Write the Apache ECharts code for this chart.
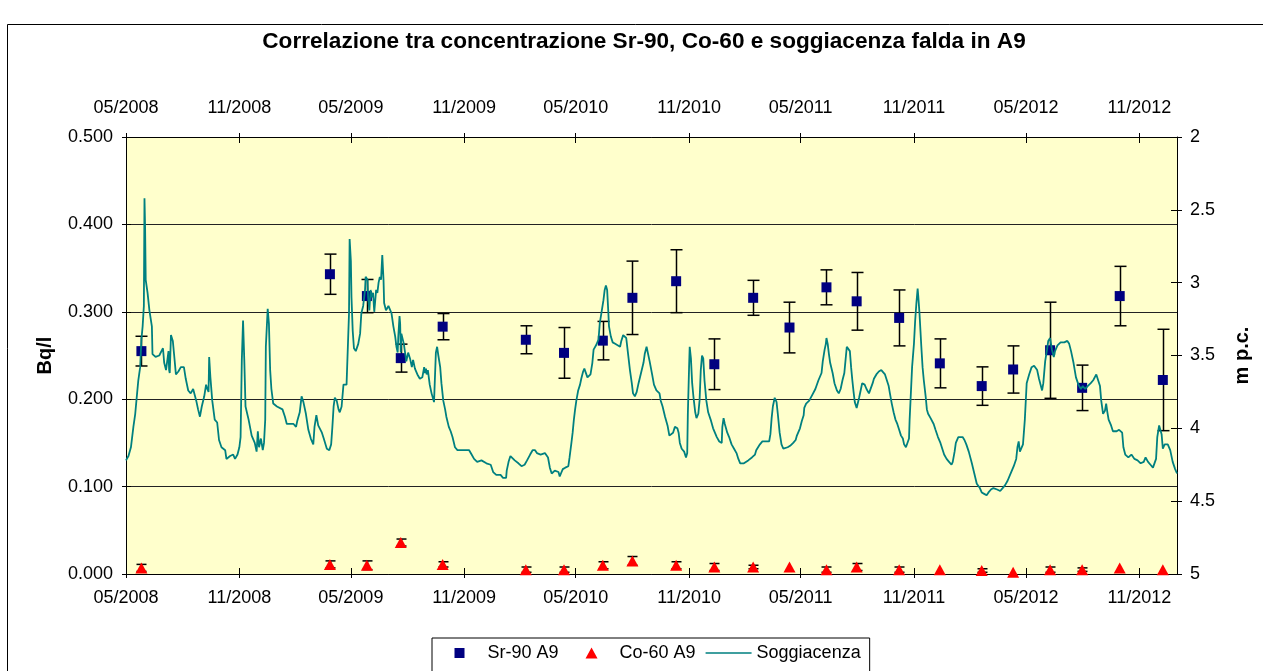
<!DOCTYPE html>
<html>
<head>
<meta charset="utf-8">
<script src="https://cdn.jsdelivr.net/npm/echarts@6/dist/echarts.min.js"></script>
<style>
html,body{margin:0;padding:0;background:#fff;}
#container{width:1263px;height:671px;}
</style>
</head>
<body>
<div id="container"></div>
<script>
var FONT = '"Liberation Sans", Arial, sans-serif';
var TITLE = 'Correlazione tra concentrazione Sr-90, Co-60 e soggiacenza falda in A9';

// sampling dates (shared by Sr-90 and Co-60)
var sampleDates = ['2008-05-26','2009-03-28','2009-05-27','2009-07-21','2009-09-27',
  '2010-02-09','2010-04-12','2010-06-14','2010-08-01','2010-10-11','2010-12-12',
  '2011-02-13','2011-04-13','2011-06-12','2011-07-31','2011-10-08','2011-12-13',
  '2012-02-19','2012-04-10','2012-06-09','2012-07-31','2012-09-30','2012-12-09'];

// Sr-90 A9 (Bq/l) and its uncertainty
var sr90 = [0.255,0.343,0.318,0.247,0.283,0.268,0.253,0.267,0.316,0.335,0.240,
  0.316,0.282,0.328,0.312,0.293,0.241,0.215,0.234,0.256,0.213,0.318,0.222];
var sr90Err = [0.017,0.023,0.019,0.016,0.015,0.016,0.029,0.022,0.042,0.036,0.029,
  0.020,0.029,0.020,0.033,0.032,0.028,0.022,0.027,0.055,0.026,0.034,0.058];

// Co-60 A9 (Bq/l) and its uncertainty
var co60 = [0.007,0.011,0.010,0.036,0.011,0.005,0.005,0.010,0.015,0.010,0.008,
  0.008,0.008,0.005,0.008,0.005,0.005,0.004,0.002,0.005,0.005,0.007,0.005];
var co60Err = [0.004,0.004,0.005,0.004,0.003,0.003,0.003,0.004,0.005,0.004,0.004,
  0.002,0,0.003,0.004,0.003,0,0.002,0,0.003,0.002,0,0];

// soggiacenza falda (m p.c.)
var soggiacenza = [
['2008-05-01',4.22],['2008-05-05',4.19],['2008-05-09',4.13],['2008-05-13',3.99],['2008-05-16',3.90],['2008-05-19',3.76],['2008-05-21',3.67],['2008-05-24',3.58],['2008-05-26',3.39],['2008-05-28',3.30],['2008-05-30',3.16],['2008-05-31',2.42],['2008-06-01',2.62],['2008-06-02',2.98],['2008-06-05',3.07],['2008-06-08',3.19],['2008-06-12',3.30],['2008-06-13',3.49],['2008-06-18',3.51],['2008-06-24',3.50],['2008-06-30',3.45],['2008-07-02',3.55],['2008-07-05',3.60],['2008-07-07',3.61],['2008-07-09',3.47],['2008-07-10',3.60],['2008-07-11',3.62],['2008-07-13',3.36],['2008-07-16',3.40],['2008-07-18',3.49],['2008-07-21',3.63],['2008-07-25',3.61],['2008-07-29',3.58],['2008-08-03',3.58],['2008-08-06',3.66],['2008-08-10',3.74],['2008-08-14',3.76],['2008-08-18',3.73],['2008-08-23',3.81],['2008-08-26',3.87],['2008-08-29',3.92],['2008-09-01',3.85],['2008-09-05',3.78],['2008-09-08',3.70],['2008-09-10',3.73],['2008-09-12',3.75],['2008-09-13',3.51],['2008-09-15',3.65],['2008-09-18',3.81],['2008-09-22',3.94],['2008-09-26',3.96],['2008-09-29',4.08],['2008-10-03',4.13],['2008-10-09',4.15],['2008-10-11',4.21],['2008-10-17',4.19],['2008-10-22',4.18],['2008-10-25',4.21],['2008-10-29',4.18],['2008-11-01',4.13],['2008-11-03',4.06],['2008-11-05',3.53],['2008-11-07',3.26],['2008-11-09',3.53],['2008-11-11',3.85],['2008-11-16',3.94],['2008-11-21',4.05],['2008-11-26',4.10],['2008-11-29',4.16],['2008-12-01',4.02],['2008-12-03',4.13],['2008-12-06',4.07],['2008-12-09',4.15],['2008-12-11',4.10],['2008-12-13',3.94],['2008-12-14',3.44],['2008-12-17',3.18],['2008-12-19',3.28],['2008-12-21',3.60],['2008-12-23',3.73],['2008-12-26',3.83],
['2009-01-01',3.85],['2009-01-10',3.87],['2009-01-14',3.92],['2009-01-17',3.97],['2009-01-28',3.97],['2009-02-01',3.99],['2009-02-03',3.95],['2009-02-07',3.89],['2009-02-10',3.78],['2009-02-13',3.82],['2009-02-17',3.90],['2009-02-21',4.01],['2009-02-25',4.07],['2009-03-01',4.11],['2009-03-03',3.99],['2009-03-06',3.91],['2009-03-09',3.98],['2009-03-15',4.03],['2009-03-18',4.07],['2009-03-23',4.14],['2009-03-27',4.15],['2009-03-30',4.11],['2009-04-01',3.99],['2009-04-03',3.85],['2009-04-05',3.79],['2009-04-08',3.81],['2009-04-11',3.87],['2009-04-13',3.89],['2009-04-16',3.85],['2009-04-19',3.70],['2009-04-24',3.70],['2009-04-27',3.69],['2009-04-28',3.21],['2009-04-29',2.70],['2009-05-01',2.85],['2009-05-02',3.10],['2009-05-04',3.33],['2009-05-06',3.45],['2009-05-09',3.47],['2009-05-13',3.42],['2009-05-16',3.35],['2009-05-18',3.21],['2009-05-21',3.16],['2009-05-24',3.05],['2009-05-25',2.96],['2009-05-28',2.98],['2009-05-29',3.10],['2009-05-31',3.19],['2009-06-02',3.05],['2009-06-04',3.10],['2009-06-06',3.07],['2009-06-08',3.20],['2009-06-11',3.05],['2009-06-13',3.07],['2009-06-15',3.00],['2009-06-17',2.96],['2009-06-19',2.98],['2009-06-21',2.81],['2009-06-23',2.98],['2009-06-24',3.14],['2009-06-27',3.19],['2009-07-01',3.16],['2009-07-03',3.17],['2009-07-06',3.21],['2009-07-09',3.30],['2009-07-12',3.37],['2009-07-14',3.44],['2009-07-16',3.48],['2009-07-17',3.37],['2009-07-19',3.23],['2009-07-20',3.28],['2009-07-21',3.48],['2009-07-22',3.35],['2009-07-24',3.36],['2009-07-26',3.42],['2009-07-28',3.48],['2009-07-30',3.54],['2009-08-02',3.48],['2009-08-05',3.52],['2009-08-08',3.58],['2009-08-10',3.53],['2009-08-13',3.59],['2009-08-17',3.63],['2009-08-21',3.66],['2009-08-25',3.65],['2009-08-28',3.58],['2009-08-29',3.62],['2009-08-31',3.59],['2009-09-01',3.63],['2009-09-03',3.60],['2009-09-06',3.70],['2009-09-09',3.76],['2009-09-13',3.82],['2009-09-14',3.83],['2009-09-16',3.48],['2009-09-18',3.44],['2009-09-20',3.50],['2009-09-23',3.58],['2009-09-25',3.69],['2009-09-28',3.81],['2009-10-01',3.87],['2009-10-03',3.92],['2009-10-07',3.99],['2009-10-10',4.02],['2009-10-13',4.06],['2009-10-17',4.13],['2009-10-21',4.15],['2009-11-09',4.15],['2009-11-13',4.18],['2009-11-17',4.21],['2009-11-22',4.23],['2009-11-29',4.22],['2009-12-07',4.24],['2009-12-14',4.25],['2009-12-16',4.24],['2009-12-18',4.30],['2009-12-23',4.32],['2009-12-30',4.32],
['2010-01-03',4.34],['2010-01-08',4.34],['2010-01-09',4.29],['2010-01-12',4.23],['2010-01-15',4.19],['2010-01-18',4.19],['2010-01-22',4.22],['2010-01-28',4.24],['2010-02-02',4.26],['2010-02-07',4.25],['2010-02-11',4.22],['2010-02-16',4.18],['2010-02-20',4.15],['2010-02-24',4.15],['2010-02-27',4.17],['2010-03-05',4.18],['2010-03-12',4.17],['2010-03-15',4.17],['2010-03-17',4.20],['2010-03-20',4.27],['2010-03-23',4.31],['2010-03-25',4.32],['2010-03-28',4.29],['2010-03-31',4.28],['2010-04-03',4.30],['2010-04-05',4.33],['2010-04-07',4.31],['2010-04-10',4.28],['2010-04-14',4.27],['2010-04-19',4.26],['2010-04-21',4.20],['2010-04-24',4.10],['2010-04-26',4.03],['2010-04-28',3.94],['2010-04-30',3.87],['2010-05-02',3.81],['2010-05-05',3.74],['2010-05-08',3.70],['2010-05-10',3.66],['2010-05-13',3.61],['2010-05-15',3.59],['2010-05-17',3.60],['2010-05-20',3.65],['2010-05-23',3.66],['2010-05-25',3.63],['2010-05-28',3.55],['2010-05-30',3.46],['2010-06-03',3.43],['2010-06-05',3.43],['2010-06-07',3.39],['2010-06-09',3.28],['2010-06-12',3.20],['2010-06-15',3.12],['2010-06-17',3.05],['2010-06-19',3.02],['2010-06-21',3.05],['2010-06-23',3.21],['2010-06-24',3.30],['2010-06-27',3.37],['2010-06-30',3.41],['2010-07-04',3.42],['2010-07-08',3.43],['2010-07-12',3.44],['2010-07-14',3.40],['2010-07-17',3.36],['2010-07-20',3.35],['2010-07-22',3.38],['2010-07-25',3.49],['2010-07-28',3.60],['2010-07-31',3.69],['2010-08-02',3.76],['2010-08-05',3.78],['2010-08-08',3.75],['2010-08-11',3.69],['2010-08-15',3.62],['2010-08-19',3.55],['2010-08-21',3.49],['2010-08-24',3.44],['2010-08-27',3.45],['2010-08-29',3.54],['2010-09-02',3.63],['2010-09-05',3.70],['2010-09-09',3.74],['2010-09-14',3.76],['2010-09-16',3.81],['2010-09-19',3.85],['2010-09-23',3.92],['2010-09-27',3.98],['2010-09-30',4.05],['2010-10-02',4.06],['2010-10-06',4.03],['2010-10-09',3.99],['2010-10-13',4.00],['2010-10-15',4.03],['2010-10-17',4.10],['2010-10-20',4.14],['2010-10-24',4.16],['2010-10-27',4.20],['2010-10-29',4.17],['2010-10-30',3.90],['2010-11-01',3.58],['2010-11-02',3.44],['2010-11-04',3.52],['2010-11-06',3.69],['2010-11-08',3.78],['2010-11-11',3.89],['2010-11-13',3.93],['2010-11-16',3.90],['2010-11-18',3.81],['2010-11-20',3.60],['2010-11-22',3.50],['2010-11-24',3.52],['2010-11-26',3.67],['2010-11-29',3.81],['2010-12-02',3.89],['2010-12-06',3.94],['2010-12-10',4.00],['2010-12-16',4.06],['2010-12-20',4.09],['2010-12-24',4.10],['2010-12-25',3.99],['2010-12-27',3.93],['2010-12-29',3.97],
['2011-01-02',4.03],['2011-01-05',4.06],['2011-01-09',4.11],['2011-01-13',4.14],['2011-01-17',4.17],['2011-01-20',4.21],['2011-01-23',4.24],['2011-01-29',4.24],['2011-02-05',4.22],['2011-02-11',4.20],['2011-02-16',4.18],['2011-02-18',4.15],['2011-02-24',4.11],['2011-02-28',4.09],['2011-03-07',4.09],['2011-03-11',4.09],['2011-03-13',4.04],['2011-03-15',3.93],['2011-03-17',3.85],['2011-03-20',3.79],['2011-03-23',3.82],['2011-03-25',3.90],['2011-03-28',4.03],['2011-03-31',4.11],['2011-04-03',4.14],['2011-04-06',4.15],['2011-04-10',4.13],['2011-04-14',4.12],['2011-04-19',4.10],['2011-04-23',4.08],['2011-04-25',4.05],['2011-04-30',4.00],['2011-05-03',3.95],['2011-05-06',3.91],['2011-05-07',3.86],['2011-05-10',3.83],['2011-05-15',3.81],['2011-05-20',3.77],['2011-05-25',3.73],['2011-05-30',3.67],['2011-06-04',3.62],['2011-06-06',3.54],['2011-06-09',3.46],['2011-06-11',3.42],['2011-06-12',3.38],['2011-06-14',3.42],['2011-06-16',3.49],['2011-06-18',3.55],['2011-06-22',3.62],['2011-06-25',3.69],['2011-06-29',3.74],['2011-07-02',3.76],['2011-07-05',3.73],['2011-07-08',3.67],['2011-07-11',3.62],['2011-07-13',3.53],['2011-07-15',3.44],['2011-07-18',3.43],['2011-07-20',3.47],['2011-07-22',3.58],['2011-07-24',3.67],['2011-07-26',3.75],['2011-07-28',3.82],['2011-07-31',3.86],['2011-08-02',3.86],['2011-08-04',3.79],['2011-08-07',3.73],['2011-08-09',3.69],['2011-08-13',3.70],['2011-08-16',3.73],['2011-08-20',3.76],['2011-08-23',3.75],['2011-08-26',3.69],['2011-08-28',3.66],['2011-09-01',3.63],['2011-09-05',3.61],['2011-09-09',3.60],['2011-09-12',3.61],['2011-09-15',3.63],['2011-09-18',3.67],['2011-09-21',3.71],['2011-09-23',3.76],['2011-09-26',3.83],['2011-09-29',3.89],['2011-10-02',3.94],['2011-10-05',3.97],['2011-10-08',4.01],['2011-10-11',4.05],['2011-10-14',4.07],['2011-10-16',4.11],['2011-10-19',4.13],['2011-10-22',4.13],['2011-10-24',4.07],['2011-10-25',3.94],['2011-10-27',3.76],['2011-10-29',3.58],['2011-11-01',3.42],['2011-11-03',3.26],['2011-11-05',3.14],['2011-11-07',3.04],['2011-11-08',3.09],['2011-11-10',3.21],['2011-11-13',3.44],['2011-11-15',3.58],['2011-11-17',3.67],['2011-11-20',3.78],['2011-11-22',3.87],['2011-11-24',3.90],['2011-11-28',3.93],['2011-12-03',3.97],['2011-12-06',4.01],['2011-12-10',4.06],['2011-12-14',4.10],['2011-12-17',4.14],['2011-12-20',4.18],['2011-12-24',4.21],['2011-12-28',4.23],
['2012-01-01',4.25],['2012-01-03',4.23],['2012-01-06',4.16],['2012-01-08',4.10],['2012-01-12',4.06],['2012-01-15',4.05],['2012-01-19',4.06],['2012-01-22',4.08],['2012-01-25',4.11],['2012-01-29',4.16],['2012-02-03',4.24],['2012-02-07',4.31],['2012-02-11',4.38],['2012-02-16',4.41],['2012-02-19',4.44],['2012-02-23',4.45],['2012-02-27',4.46],['2012-03-01',4.44],['2012-03-05',4.42],['2012-03-09',4.41],['2012-03-15',4.42],['2012-03-20',4.43],['2012-03-24',4.41],['2012-03-28',4.39],['2012-04-01',4.36],['2012-04-05',4.32],['2012-04-11',4.26],['2012-04-15',4.21],['2012-04-17',4.13],['2012-04-19',4.09],['2012-04-21',4.16],['2012-04-24',4.17],['2012-04-26',4.11],['2012-04-29',3.94],['2012-05-02',3.69],['2012-05-06',3.63],['2012-05-10',3.58],['2012-05-14',3.57],['2012-05-19',3.60],['2012-05-22',3.66],['2012-05-27',3.74],['2012-05-29',3.69],['2012-06-01',3.54],['2012-06-04',3.46],['2012-06-06',3.40],['2012-06-09',3.38],['2012-06-12',3.46],['2012-06-15',3.51],['2012-06-17',3.47],['2012-06-21',3.43],['2012-06-26',3.41],['2012-07-02',3.41],['2012-07-07',3.40],['2012-07-10',3.42],['2012-07-13',3.47],['2012-07-17',3.55],['2012-07-21',3.65],['2012-07-25',3.70],['2012-07-29',3.73],['2012-08-01',3.71],['2012-08-05',3.73],['2012-08-09',3.71],['2012-08-14',3.69],['2012-08-18',3.67],['2012-08-23',3.63],['2012-08-26',3.64],['2012-08-29',3.71],['2012-08-31',3.81],['2012-09-03',3.90],['2012-09-06',3.88],['2012-09-08',3.83],['2012-09-10',3.89],['2012-09-12',3.94],['2012-09-16',3.98],['2012-09-19',4.02],['2012-09-22',4.03],['2012-09-25',4.02],['2012-09-29',4.01],['2012-10-01',4.00],['2012-10-04',4.03],['2012-10-06',4.13],['2012-10-09',4.18],['2012-10-14',4.20],['2012-10-19',4.18],['2012-10-24',4.21],['2012-10-29',4.22],['2012-11-03',4.24],['2012-11-08',4.23],['2012-11-11',4.20],['2012-11-13',4.19],['2012-11-15',4.23],['2012-11-19',4.25],['2012-11-23',4.27],['2012-11-26',4.27],['2012-11-28',4.21],['2012-11-30',4.06],['2012-12-03',3.98],['2012-12-05',3.98],['2012-12-07',4.04],['2012-12-09',4.14],['2012-12-12',4.11],['2012-12-17',4.11],['2012-12-21',4.15],['2012-12-25',4.23],['2012-12-29',4.28],['2013-01-01',4.31]
];

// date axis ticks every six months
var tickDates = ['2008-05-01','2008-11-01','2009-05-01','2009-11-01','2010-05-01',
  '2010-11-01','2011-05-01','2011-11-01','2012-05-01','2012-11-01'];
var xStart = '2008-05-01', xEnd = '2013-01-01';

var toTime = function(s){
    var p = s.split('-');
    return new Date(+p[0], +p[1]-1, +p[2]).getTime();
};
var fmtMonth = function(v){
    var d = new Date(v);
    var m = d.getMonth()+1;
    return (m<10?'0':'')+m+'/'+d.getFullYear();
};

var tickTimes = tickDates.map(toTime);
var xMin = toTime(xStart), xMax = toTime(xEnd);

var srData = sampleDates.map(function(d,i){ return [toTime(d), sr90[i]]; });
var coData = sampleDates.map(function(d,i){ return [toTime(d), co60[i]]; });
var srBars = sampleDates.map(function(d,i){ return [toTime(d), sr90[i]-sr90Err[i], sr90[i]+sr90Err[i]]; });
var coBars = [];
sampleDates.forEach(function(d,i){
    if(co60Err[i]>0) coBars.push([toTime(d), co60[i]-co60Err[i], co60[i]+co60Err[i]]);
});
var lineData = soggiacenza.map(function(p){ return [toTime(p[0]), p[1]]; });

// value axis holding timestamps, ticks placed on the six-month dates
var timeAxis = function(pos, main, inside, len, margin){
    return {
        type:'value', position:pos, min:xMin, max:xMax, scale:true,
        axisLine:{show:main, onZero:false, lineStyle:{color:'#000', width:1}},
        axisTick:{show:true, inside:inside, length:len, customValues:tickTimes, lineStyle:{color:'#000', width:1}},
        axisLabel:{show:main, customValues:tickTimes, formatter:fmtMonth, margin:margin,
            color:'#000', fontSize:18, fontFamily:FONT},
        splitLine:{show:false}
    };
};

var errorBars = function(data, capW){
    return {
        type:'custom', xAxisIndex:0, yAxisIndex:0, silent:true, z:2,
        data:data, encode:{x:0, y:[1,2]},
        renderItem:function(params, api){
            var lo = api.coord([api.value(0), api.value(1)]);
            var hi = api.coord([api.value(0), api.value(2)]);
            var x = Math.round(lo[0]) + 0.5, h = capW/2;
            var st = {stroke:'#000', lineWidth:1.5};
            return {type:'group', children:[
                {type:'line', shape:{x1:x, y1:hi[1], x2:x, y2:lo[1]}, style:st},
                {type:'line', shape:{x1:x-h, y1:hi[1], x2:x+h, y2:hi[1]}, style:st},
                {type:'line', shape:{x1:x-h, y1:lo[1], x2:x+h, y2:lo[1]}, style:st}
            ]};
        }
    };
};

// legend icons drawn in a full 46x11 box so every item keeps the same width
var dots = 'M0,0L0.01,0L0.01,0.01Z M46,11L45.99,11L45.99,10.99Z ';
var iconSquare = 'path://' + dots + 'M18,0.5L28,0.5L28,10.5L18,10.5Z';
var iconTriangle = 'path://' + dots + 'M23,0L29,11L17,11Z';
var iconLine = 'path://' + dots + 'M0,4.75L46,4.75L46,6.25L0,6.25Z';

var dom = document.querySelector('#container');
var myChart = echarts.init(dom, null, {renderer:'canvas'});

var option = {
    animation:false,
    backgroundColor:'#fff',
    textStyle:{fontFamily:FONT},
    grid:{left:126, top:137, width:1051, height:437, show:true,
        backgroundColor:'#FFFFCC', borderWidth:0, outerBoundsMode:'none'},
    graphic:[
        {type:'rect', silent:true, z:-10,
            shape:{x:7.5, y:24.5, width:1400, height:800},
            style:{fill:'none', stroke:'#000', lineWidth:1}},
        {type:'text', silent:true, x:644, y:42,
            style:{text:TITLE, fill:'#000', font:'bold 22.6px "Liberation Sans", Arial, sans-serif',
                align:'center', verticalAlign:'middle'}}
    ],
    legend:{
        data:[
            {name:'Sr-90 A9', icon:iconSquare},
            {name:'Co-60 A9', icon:iconTriangle},
            {name:'Soggiacenza', icon:iconLine}
        ],
        left:432, top:638, orient:'horizontal',
        padding:[6,9,40,4.5], itemGap:10, itemWidth:46, itemHeight:11,
        borderColor:'#000', borderWidth:1, backgroundColor:'#fff',
        selectedMode:false,
        textStyle:{fontSize:18, color:'#000', fontFamily:FONT}
    },
    xAxis:[
        timeAxis('bottom', true, false, 4, 15),
        timeAxis('top', true, false, 4, 20),
        timeAxis('bottom', false, true, 6, 8),
        timeAxis('top', false, true, 6, 8)
    ],
    yAxis:[
        {type:'value', position:'left', min:0, max:0.5, interval:0.1,
            name:'Bq/l', nameLocation:'middle', nameGap:71, nameRotate:90,
            nameTextStyle:{fontSize:20, fontWeight:'bold', color:'#000', fontFamily:FONT},
            axisLine:{show:true, lineStyle:{color:'#000', width:1}},
            axisTick:{show:true, inside:false, length:4, lineStyle:{color:'#000'}},
            axisLabel:{margin:13, color:'#000', fontSize:18, fontFamily:FONT,
                formatter:function(v){ return v.toFixed(3); }},
            splitLine:{show:true, lineStyle:{color:'#222', width:1}}},
        {type:'value', position:'right', min:2, max:5, interval:0.5, inverse:true,
            name:'m p.c.', nameLocation:'middle', nameGap:55, nameRotate:90,
            nameTextStyle:{fontSize:20, fontWeight:'bold', color:'#000', fontFamily:FONT},
            axisLine:{show:true, lineStyle:{color:'#000', width:1}},
            axisTick:{show:true, inside:false, length:5, lineStyle:{color:'#000'}},
            axisLabel:{margin:13, color:'#000', fontSize:18, fontFamily:FONT},
            splitLine:{show:false}},
        {type:'value', position:'left', min:0, max:0.5, interval:0.1,
            axisLine:{show:false}, axisLabel:{show:false}, splitLine:{show:false},
            axisTick:{show:true, inside:true, length:5, lineStyle:{color:'#000'}}},
        {type:'value', position:'right', min:2, max:5, interval:0.5, inverse:true,
            axisLine:{show:false}, axisLabel:{show:false}, splitLine:{show:false},
            axisTick:{show:true, inside:true, length:6, lineStyle:{color:'#000'}}}
    ],
    series:[
        errorBars(srBars, 12),
        errorBars(coBars, 10),
        {name:'Sr-90 A9', type:'scatter', xAxisIndex:0, yAxisIndex:0, z:3,
            symbol:'rect', symbolSize:10, data:srData,
            itemStyle:{color:'#000080', opacity:1}},
        {name:'Co-60 A9', type:'scatter', xAxisIndex:0, yAxisIndex:0, z:3,
            symbol:'triangle', symbolSize:[12,11], data:coData,
            itemStyle:{color:'#FF0000', opacity:1}},
        {name:'Soggiacenza', type:'line', xAxisIndex:0, yAxisIndex:1, z:4,
            symbol:'none', showSymbol:false, data:lineData,
            lineStyle:{color:'#008080', width:1.8}, itemStyle:{color:'#008080'}}
    ]
};

myChart.setOption(option);
</script>
</body>
</html>
